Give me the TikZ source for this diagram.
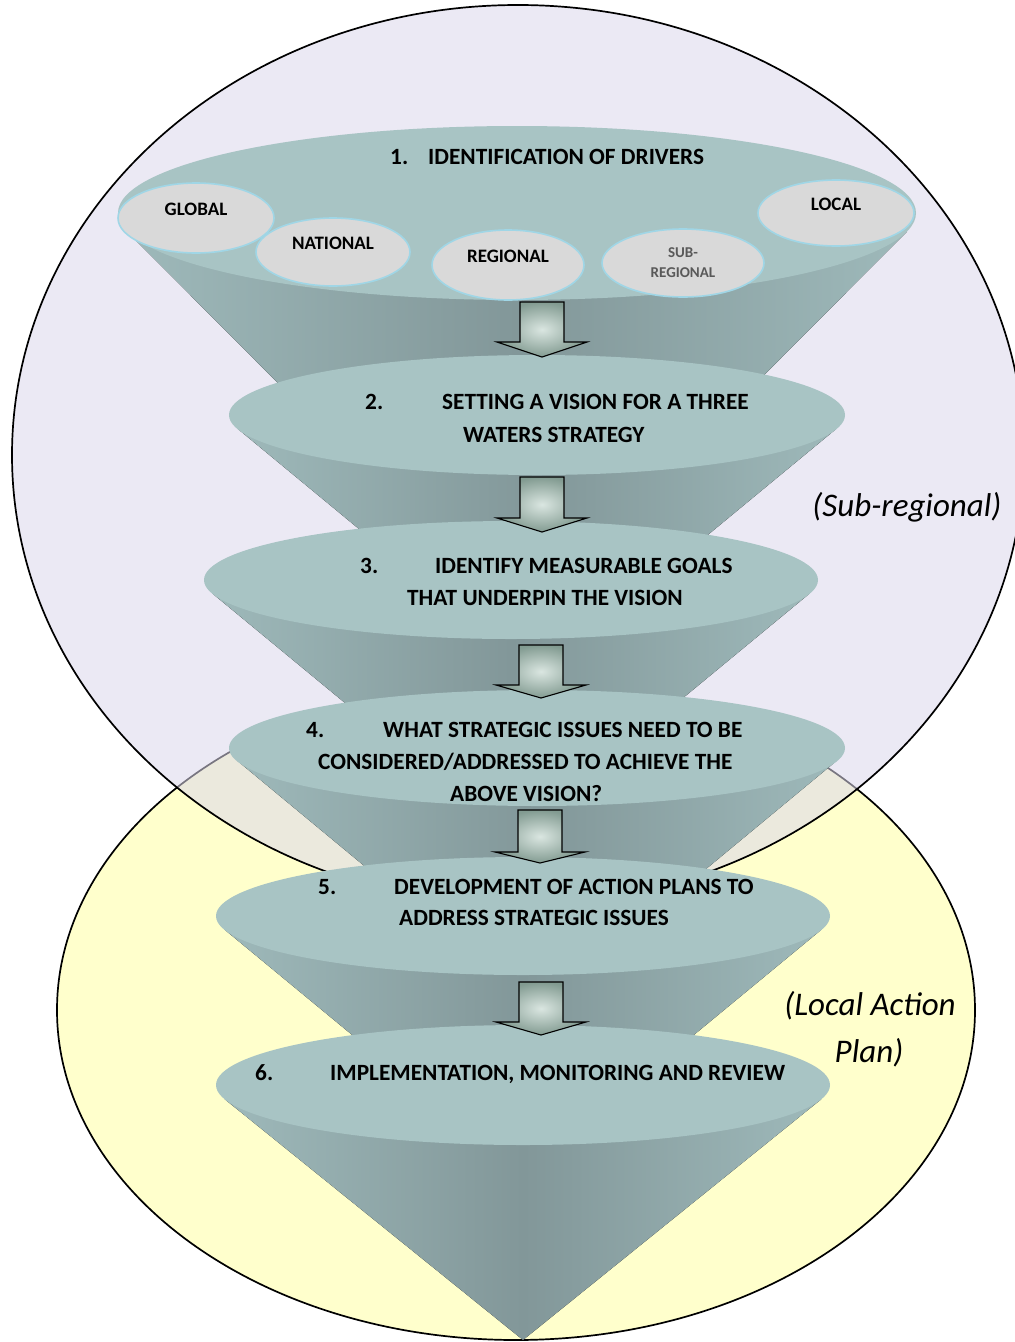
\documentclass[tikz,border=0pt]{standalone}
\usepackage{fontspec}
\setmainfont{Carlito}
\usetikzlibrary{shapes.geometric}
\definecolor{lilac}{RGB}{220,215,235}
\definecolor{lemon}{RGB}{255,255,204}
\definecolor{tealface}{RGB}{168,196,196}
\definecolor{tealmid}{RGB}{130,151,153}
\definecolor{tealedge}{RGB}{158,185,186}
\definecolor{chipfill}{RGB}{217,217,217}
\definecolor{chipline}{RGB}{160,214,230}
\definecolor{arrowlight}{RGB}{218,230,225}
\definecolor{arrowdark}{RGB}{130,155,145}
\begin{document}
\begin{tikzpicture}[x=1pt, y=-1pt,
  every node/.style={font=\bfseries\fontsize{23.3}{27}\selectfont, inner sep=0pt},
  cone/.style={left color=tealedge, right color=tealedge, middle color=tealmid},
  face/.style={fill=tealface},
  chip/.style={ellipse, fill=chipfill, draw=chipline, line width=1.6pt, font=\bfseries\fontsize{19}{21}\selectfont, text height=13pt, text depth=18pt},
  blockarrow/.style={draw=black, line width=1.1pt, inner color=arrowlight, outer color=arrowdark},
  zone/.style={font=\itshape\fontsize{33}{40}\selectfont}]
\fill[white] (0,0) rectangle (1015,1342);
\clip (0,0) rectangle (1015,1342);
% the two areas
\draw[fill=lemon, line width=1.7pt] (516,1010) ellipse [x radius=459, y radius=330];
\draw[fill=lilac, fill opacity=0.55, line width=1.7pt] (518,455) ellipse [x radius=506, y radius=450];
% funnels, top to bottom
\fill[cone] (127,231.5) -- (517,623) -- (907,231.5) -- cycle;
\fill[face] (517,213) ellipse [x radius=399, y radius=87];
\fill[cone] (237.7,428.8) -- (537,676) -- (836.3,428.8) -- cycle;
\fill[face] (537,415) ellipse [x radius=308, y radius=60];
\fill[cone] (212.3,593.4) -- (511,840) -- (809.7,593.4) -- cycle;
\fill[face] (511,580) ellipse [x radius=307, y radius=59];
\fill[cone] (237.5,760.9) -- (537,1009) -- (836.5,760.9) -- cycle;
\fill[face] (537,748) ellipse [x radius=308, y radius=58];
\fill[cone] (224.3,929.4) -- (523,1176) -- (821.7,929.4) -- cycle;
\fill[face] (523,916) ellipse [x radius=307, y radius=59];
\fill[cone] (224.6,1099.1) -- (523,1340) -- (821.4,1099.1) -- cycle;
\fill[face] (523,1085) ellipse [x radius=307, y radius=60];
% drivers
\node[chip, minimum width=156pt, minimum height=70pt] (global) at (196,218) {GLOBAL};
\node[chip, minimum width=154pt, minimum height=68pt] (national) at (333,252) {NATIONAL};
\node[chip, minimum width=152pt, minimum height=70pt] (regional) at (508,265) {REGIONAL};
\node[chip, minimum width=162pt, minimum height=68pt, text height=, text depth=, align=center, text=black!65, font=\bfseries\fontsize{15}{20}\selectfont] (subregional) at (683,263) {SUB-\\REGIONAL};
\node[chip, minimum width=156pt, minimum height=66pt] (local) at (836,213) {LOCAL};
% arrows between the steps
\draw[blockarrow, shift={(542,302)}] (-22,0) -- (22,0) -- (22,40) -- (45,40) -- (0,55) -- (-45,40) -- (-22,40) -- cycle;
\draw[blockarrow, shift={(542,477)}] (-22,0) -- (22,0) -- (22,41) -- (45,41) -- (0,55) -- (-45,41) -- (-22,41) -- cycle;
\draw[blockarrow, shift={(541,645)}] (-22,0) -- (22,0) -- (22,40) -- (45,40) -- (0,53) -- (-45,40) -- (-22,40) -- cycle;
\draw[blockarrow, shift={(540,810)}] (-22,0) -- (22,0) -- (22,42) -- (45,42) -- (0,53) -- (-45,42) -- (-22,42) -- cycle;
\draw[blockarrow, shift={(541,982)}] (-22,0) -- (22,0) -- (22,40) -- (45,40) -- (0,53) -- (-45,40) -- (-22,40) -- cycle;
% step texts
\node[anchor=base west] (n1) at (390,164) {1.};
\node[anchor=base west] (s1) at (428,164) {IDENTIFICATION OF DRIVERS};
\node[anchor=base west] (n2) at (365,409) {2.};
\node[anchor=base west] (s2a) at (442,409) {SETTING A VISION FOR A THREE};
\node[anchor=base west] (s2b) at (463,442) {WATERS STRATEGY};
\node[anchor=base west] (n3) at (360,573) {3.};
\node[anchor=base west] (s3a) at (435,573) {IDENTIFY MEASURABLE GOALS};
\node[anchor=base west] (s3b) at (407,605) {THAT UNDERPIN THE VISION};
\node[anchor=base west] (n4) at (306,737) {4.};
\node[anchor=base west] (s4a) at (383,737) {WHAT STRATEGIC ISSUES NEED TO BE};
\node[anchor=base west] (s4b) at (318,769) {CONSIDERED/ADDRESSED TO ACHIEVE THE};
\node[anchor=base west] (s4c) at (450,801) {ABOVE VISION?};
\node[anchor=base west] (n5) at (318,894) {5.};
\node[anchor=base west] (s5a) at (394,894) {DEVELOPMENT OF ACTION PLANS TO};
\node[anchor=base west] (s5b) at (399,925) {ADDRESS STRATEGIC ISSUES};
\node[anchor=base west] (n6) at (255,1080) {6.};
\node[anchor=base west] (s6) at (330,1080) {IMPLEMENTATION, MONITORING AND REVIEW};
% area labels
\node[zone] (subreg) at (907,507) {(Sub-regional)};
\node[zone] (localA) at (870,1006) {(Local Action};
\node[zone] (localB) at (869,1053) {Plan)};
\end{tikzpicture}
\end{document}
